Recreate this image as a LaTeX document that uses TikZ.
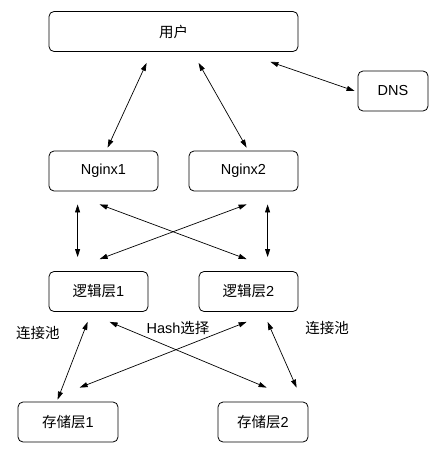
\documentclass[tikz,border=0pt]{standalone}
\usepackage{fontspec}
\setmainfont{Liberation Sans}
\newfontfamily\cjk{Noto Sans CJK SC}
\usetikzlibrary{arrows.meta}

\tikzstyle{box}=[shape=rectangle,draw=black,line width=0.8pt,rounded corners=5pt,
    minimum height=40pt,inner sep=0pt,font=\fontsize{14.5}{17}\selectfont]
\tikzstyle{link}=[line width=0.7pt,{Triangle[length=8pt,width=5pt]}-{Triangle[length=8pt,width=5pt]}]
\tikzstyle{lbl}=[font=\fontsize{14.5}{17}\selectfont]

\begin{document}
\begin{tikzpicture}[x=1pt,y=-1pt]
        \useasboundingbox (0,0) rectangle (439,452);
        % boxes
        \node[box,minimum width=249pt] (user) at (173.5,31.5) {\cjk 用户};
        \node[box,minimum width=70pt] (dns) at (393,91) {DNS};
        \node[box,minimum width=109pt] (nginx1) at (103.5,171) {Nginx1};
        \node[box,minimum width=109pt] (nginx2) at (243.5,171) {Nginx2};
        \node[box,minimum width=99pt] (logic1) at (98.5,291.5) {{\cjk 逻辑层}1};
        \node[box,minimum width=99pt] (logic2) at (248.5,291.5) {{\cjk 逻辑层}2};
        \node[box,minimum width=100pt] (store1) at (68,422) {{\cjk 存储层}1};
        \node[box,minimum width=90pt] (store2) at (263,422) {{\cjk 存储层}2};

        % user - nginx - dns
        \draw [link] ([shift={(98,11)}]user.south west) -- ([shift={(59,-3)}]nginx1.north west);
        \draw [link] ([shift={(150,11)}]user.south west) -- ([shift={(58,-3)}]nginx2.north west);
        \draw [link] ([shift={(-28,10)}]user.south east) -- ([shift={(-3,0)}]dns.west);

        % nginx - logic
        \draw [link] ([shift={(29,13)}]nginx1.south west) -- ([shift={(29,-14)}]logic1.north west);
        \draw [link] ([shift={(79,13)}]nginx2.south west) -- ([shift={(69,-14)}]logic2.north west);
        \draw [link] ([shift={(51,13)}]nginx1.south west) -- ([shift={(48,-12)}]logic2.north west);
        \draw [link] ([shift={(58,13)}]nginx2.south west) -- ([shift={(51,-12)}]logic1.north west);

        % logic - store
        \draw [link] ([shift={(39,10)}]logic1.south west) -- ([shift={(40,-2)}]store1.north west);
        \draw [link] ([shift={(61,10)}]logic1.south west) -- ([shift={(49,-14)}]store2.north west);
        \draw [link] ([shift={(48,10)}]logic2.south west) -- ([shift={(62,-14)}]store1.north west);
        \draw [link] ([shift={(69,10)}]logic2.south west) -- ([shift={(79,-14)}]store2.north west);

        % labels
        \node[lbl] (poolL) at (38,333) {\cjk 连接池};
        \node[lbl] (poolR) at (327,328) {\cjk 连接池};
        \node[lbl] (hash) at (178,328) {Hash{\cjk 选择}};
    \end{tikzpicture}
\end{document}
